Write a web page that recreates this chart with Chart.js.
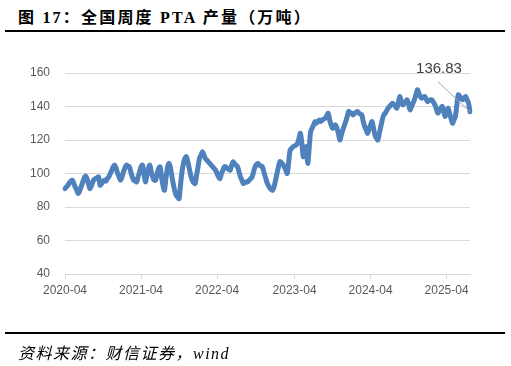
<!DOCTYPE html>
<html>
<head>
<meta charset="utf-8">
<script src="https://cdn.jsdelivr.net/npm/chart.js@4"></script>
<style>
  html, body { margin: 0; padding: 0; background: #fff; }
  #wrap { position: relative; width: 511px; height: 366px; overflow: hidden; }
  #title {
    position: absolute; left: 18px; top: 4px;
    font-family: 'Liberation Serif', 'Noto Sans CJK SC', serif;
    font-weight: bold; font-size: 16px; letter-spacing: 2.2px; color: #000;
    white-space: nowrap;
  }
  .rule { position: absolute; left: 5px; width: 500px; height: 1.5px; background: #000; }
  #source {
    position: absolute; left: 18px; top: 340px;
    font-family: 'Liberation Serif', 'Noto Sans CJK SC', serif;
    font-style: italic; font-size: 16px; letter-spacing: 1.5px; color: #000; white-space: nowrap;
  }
  canvas { position: absolute; left: 0; top: 0; }
</style>
</head>
<body>
<div id="wrap">
  <div id="title">图 17：全国周度 PTA 产量（万吨）</div>
  <div class="rule" style="top:30px"></div>
  <canvas id="ptaChart" width="511" height="366"></canvas>
  <div class="rule" style="top:332px"></div>
  <div id="source">资料来源：财信证券，wind</div>
</div>
<script>
// weekly series, first week = 2020-04-03
const startDate = [2020, 3, 3];
const tickLabels = ['2020-04', '2021-04', '2022-04', '2023-04', '2024-04', '2025-04'];
const yTicks = [40, 60, 80, 100, 120, 140, 160];
const production = [
  91, 92, 93, 94.5, 95.5, 96, 94, 92, 90, 88,
  89.5, 92, 94.5, 97, 98.5, 97, 94, 91, 92.5, 95,
  96.5, 97, 97.5, 98, 93, 94, 95, 96, 95.5, 97,
  98, 100, 102, 104, 105, 103, 100, 98, 96, 98,
  101, 103.5, 105, 104.5, 104, 101, 98, 96, 95.5, 95,
  98, 101, 104, 105, 100, 95, 99, 103, 105, 101,
  98, 96, 96, 100, 103, 104, 98, 93, 90, 97,
  103, 106, 104, 99, 94, 90, 87, 86, 85, 93,
  101, 106, 109, 110, 107, 103, 99, 96, 94.5, 94,
  99, 104, 109, 111, 113, 111, 109, 108, 107, 106,
  105, 104, 103, 102, 100, 98, 97, 100, 102, 104,
  104, 103, 102.5, 102, 105, 107, 106, 105, 104, 101,
  98, 96, 94, 94.5, 95, 95, 96, 97, 98, 101,
  104, 105.5, 106, 105, 104.5, 104, 101, 98, 95, 93,
  91.5, 90.5, 90, 92, 96, 100, 104, 107, 106.5, 105.5,
  104, 102, 100, 107, 114, 115, 116, 116.5, 117, 118,
  121, 124, 118, 110, 112, 116, 106, 115, 125, 127,
  129, 131, 130, 131, 132, 131, 132, 132.5, 133, 134.5,
  136, 132, 129, 127, 128, 129, 127, 124, 120, 123,
  126, 128.5, 131, 134, 137, 136.5, 136, 135, 136, 136.5,
  137, 136, 135.5, 135, 131, 128, 126, 124, 127, 129,
  131, 127, 123, 121, 120, 124, 128, 132, 135, 136,
  137.5, 139, 140, 141, 142, 141, 140, 139, 142.5, 146,
  143, 141, 142, 143, 144, 141, 138, 140, 142, 144,
  147, 150, 148, 146, 145, 145.5, 146, 144.5, 143, 143.5,
  144, 144, 142.5, 141, 138.5, 136, 137.5, 139, 140, 137,
  134, 136.5, 139, 136, 133, 130, 132, 134, 141, 147,
  146, 145, 144, 145, 146, 144, 142, 136.83
];

const weeks = production.map((_, i) =>
  new Date(Date.UTC(startDate[0], startDate[1], startDate[2] + 7 * i)).toISOString().slice(0, 10));

// last value callout
const lastValueLabel = {
  id: 'lastValueLabel',
  afterDraw(chart) {
    const pt = chart.getDatasetMeta(0).data[production.length - 1];
    const ctx = chart.ctx;
    ctx.save();
    ctx.strokeStyle = '#a6a6a6';
    ctx.lineWidth = 1;
    ctx.beginPath();
    ctx.moveTo(pt.x - 32, pt.y - 30);
    ctx.lineTo(pt.x, pt.y);
    ctx.stroke();
    ctx.fillStyle = '#404040';
    ctx.font = "15px 'Liberation Sans'";
    ctx.textAlign = 'center';
    ctx.textBaseline = 'middle';
    ctx.fillText(production[production.length - 1].toFixed(2), pt.x - 31, pt.y - 43);
    ctx.restore();
  }
};

Chart.defaults.font.family = "'Liberation Sans', sans-serif";
Chart.defaults.font.size = 12;
Chart.defaults.color = '#595959';

new Chart(document.getElementById('ptaChart'), {
  type: 'line',
  data: {
    labels: weeks,
    datasets: [{
      data: production,
      borderColor: '#4f81bd',
      borderWidth: 5,
      pointRadius: 0,
      tension: 0.3,
      borderJoinStyle: 'round',
      borderCapStyle: 'round'
    }]
  },
  options: {
    responsive: false,
    animation: false,
    layout: { padding: { left: 0, right: 41, top: 73, bottom: 52 } },
    plugins: { legend: { display: false }, tooltip: { enabled: false } },
    scales: {
      x: {
        offset: false,
        afterFit: (axis) => { axis.height = 40; },
        grid: { drawOnChartArea: false, drawTicks: true, tickLength: 5, color: '#d9d9d9' },
        border: { color: '#d9d9d9' },
        ticks: {
          autoSkip: false, maxRotation: 0, padding: 4,
          callback: (v, i) => {
            const w = weeks[i];
            return (tickLabels.includes(w.slice(0, 7)) && +w.slice(8) <= 7) ? w.slice(0, 7) : null;
          }
        }
      },
      y: {
        min: 40, max: 160,
        afterFit: (axis) => { axis.width = 65; },
        afterBuildTicks: (axis) => { axis.ticks = yTicks.map(v => ({ value: v })); },
        grid: { color: '#d9d9d9', drawTicks: false },
        border: { display: false },
        ticks: { padding: 15 }
      }
    }
  },
  plugins: [lastValueLabel]
});
</script>
</body>
</html>
